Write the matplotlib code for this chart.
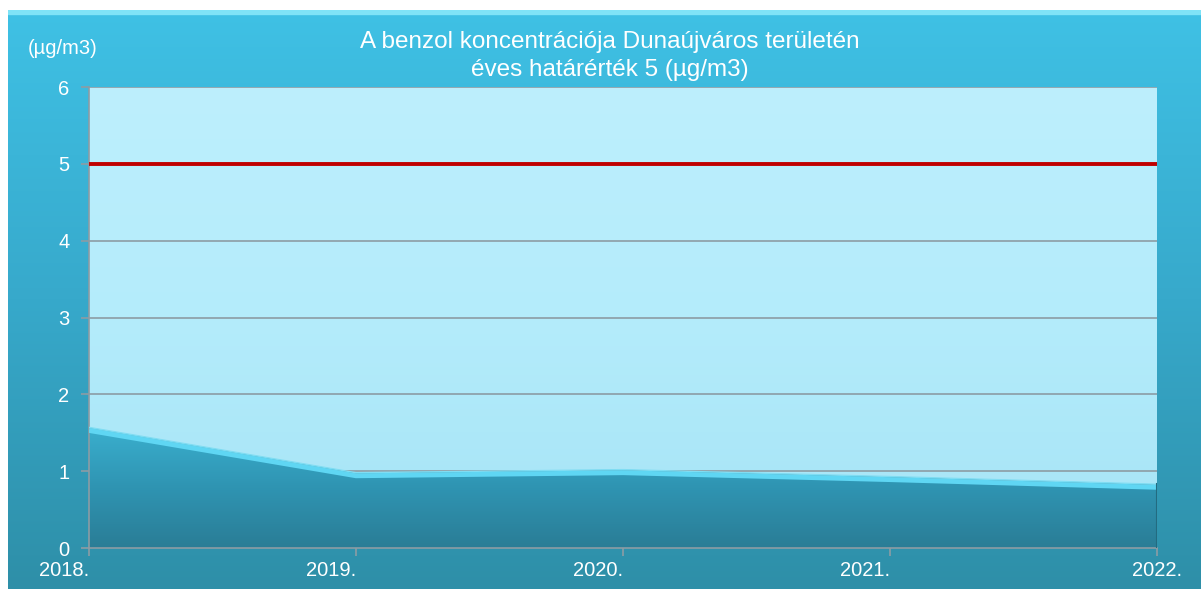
import numpy as np
import matplotlib
matplotlib.use("Agg")
import matplotlib.pyplot as plt
from matplotlib.patches import Polygon, Rectangle
from matplotlib.colors import LinearSegmentedColormap

plt.rcParams['font.family'] = ['Liberation Sans', 'DejaVu Sans']

years = ["2018.", "2019.", "2020.", "2021.", "2022."]
benzene = [1.57, 0.98, 1.02, 0.93, 0.83]
limit_value = 5
title_lines = ["A benzol koncentrációja Dunaújváros területén",
               "éves határérték 5 (µg/m3)"]
unit_label = "(µg/m3)"

W, H = 1201, 589
fig = plt.figure(figsize=(W / 100, H / 100), dpi=100)
fig.patch.set_facecolor("white")

# Background panel with vertical gradient
bg = fig.add_axes([8 / W, 0, 1 - 8 / W, 1 - 10 / H])
bg.set_axis_off()
panel_cmap = LinearSegmentedColormap.from_list("panel", ["#3FC1E5", "#37A9CB", "#2E8FA8"])
grad = np.linspace(0, 1, 256).reshape(-1, 1)
bg.imshow(grad, cmap=panel_cmap, aspect="auto", extent=[0, 1, 0, 1], origin="upper")
bg.add_patch(Rectangle((0, 0.993), 1, 0.007, color="#7FE3F7", transform=bg.transAxes))
bg.set_xlim(0, 1)
bg.set_ylim(0, 1)

# Plot area
x0, x1 = 89, 1157
y_top, y_bot = 87, 548
ax = fig.add_axes([x0 / W, 1 - y_bot / H, (x1 - x0) / W, (y_bot - y_top) / H])
ax.set_facecolor("none")
x = np.arange(len(years))
ax.set_xlim(0, len(years) - 1)
ax.set_ylim(0, 6)

# Plot background gradient
inner_cmap = LinearSegmentedColormap.from_list("inner", ["#BDEFFD", "#B4ECFB", "#A6E4F6"])
ax.imshow(grad, cmap=inner_cmap, aspect="auto", extent=[0, len(years) - 1, 0, 6],
          origin="upper", zorder=0)

# Gridlines
for yv in range(1, 7):
    ax.axhline(yv, color="#8C9CA4", lw=1.2, zorder=1)

# Area with gradient fill clipped to the data polygon
verts = [(0, 0)] + list(zip(x, benzene)) + [(x[-1], 0)]
poly = Polygon(verts, closed=True, facecolor="none", edgecolor="none")
ax.add_patch(poly)
area_cmap = LinearSegmentedColormap.from_list("area", ["#3AAFCE", "#2F94B2", "#2A7D96"])
img = ax.imshow(grad, cmap=area_cmap, aspect="auto",
                extent=[0, len(years) - 1, 0, max(benzene)], origin="upper", zorder=2)
img.set_clip_path(poly)
ax.plot(x, np.array(benzene) - 0.04, color="#5FD6F3", lw=3.5, zorder=3,
        solid_capstyle="butt")
ax.plot(x, benzene, color="#7FDDF3", lw=1.0, zorder=3)
ax.plot([x[-1], x[-1]], [0, benzene[-1]], color="#236B80", lw=1.5, zorder=3)

# Annual limit
ax.axhline(limit_value, color="#C00000", lw=2.8, zorder=4)

for s in ["top", "right"]:
    ax.spines[s].set_visible(False)
for s in ["left", "bottom"]:
    ax.spines[s].set_color("#8C9CA4")
    ax.spines[s].set_linewidth(1.2)

ax.set_xticks(x)
ax.set_xticklabels(years)
for i, lab in enumerate(ax.get_xticklabels()):
    lab.set_ha("right" if i < len(years) - 1 else "center")
ax.set_yticks(range(0, 7))
ax.tick_params(axis="both", colors="#8C9CA4", labelcolor="white", labelsize=14.5,
               length=6, width=1.2, direction="out")
ax.tick_params(axis="x", pad=3)
ax.tick_params(axis="y", pad=8)

fig.text(610 / W, 1 - 42 / H, title_lines[0], ha="center", va="center",
         color="white", fontsize=17.5)
fig.text(610 / W, 1 - 70 / H, title_lines[1], ha="center", va="center",
         color="white", fontsize=17.5)
fig.text(63 / W, 1 - 48 / H, unit_label, ha="center", va="center",
         color="white", fontsize=14.5)

fig.savefig("out.png", dpi=100)
